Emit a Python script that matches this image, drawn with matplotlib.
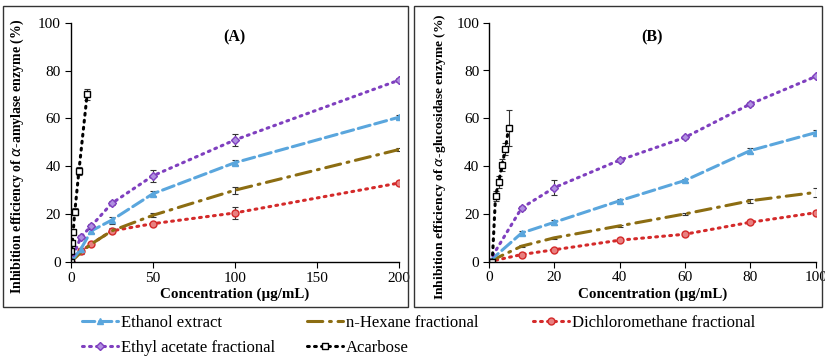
import numpy as np
import matplotlib
matplotlib.use("Agg")
import matplotlib.pyplot as plt
from matplotlib.patches import Rectangle
from matplotlib.lines import Line2D

plt.rcParams["font.family"] = ["Liberation Serif", "DejaVu Serif"]

# ---- panel A: alpha-amylase ----
conc_a = [0, 6.25, 12.5, 25, 50, 100, 200]
ethanol_a = [0, 5.5, 13, 17.5, 28.5, 41.5, 60.5]
hexane_a = [0, 4, 7.5, 13, 19.5, 30, 47]
dcm_a = [0, 4.5, 7.5, 13, 16, 20.5, 33]
ethyl_a = [0, 10.5, 15, 24.5, 36, 51, 76]
ethanol_a_err = [0, 0.5, 0.8, 1.5, 1, 1, 0.8]
hexane_a_err = [0, 0.5, 0.5, 0.8, 0.8, 1.5, 0.8]
dcm_a_err = [0, 0.5, 0.5, 1, 0.8, 2.5, 1]
ethyl_a_err = [0, 0.8, 1, 0.8, 2.5, 2.5, 0.8]
acarb_conc_a = [0, 0.25, 1, 1.5, 2.5, 5, 10]
acarb_a = [0, 4.5, 8, 12.5, 21, 38, 70]
acarb_a_err = [0, 0.5, 0.8, 1, 1.5, 1.5, 2.5]

# ---- panel B: alpha-glucosidase ----
conc_b = [0, 10, 20, 40, 60, 80, 100]
ethanol_b = [0, 12, 16.5, 25.5, 34, 46.5, 54]
hexane_b = [0, 6.5, 10, 15, 20, 25.5, 29]
dcm_b = [0, 3, 5, 9, 11.5, 16.5, 20.5]
ethyl_b = [0, 22.5, 31, 42.5, 52, 66, 77.5]
ethanol_b_err = [0, 1, 1, 0.8, 0.8, 1, 1]
hexane_b_err = [0, 0.5, 0.5, 0.5, 0.5, 0.8, 1.8]
dcm_b_err = [0, 0.5, 0.5, 0.5, 0.8, 0.8, 0.8]
ethyl_b_err = [0, 0.8, 3, 0.8, 0.8, 0.8, 0.8]
acarb_conc_b = [1, 2, 3, 4, 5, 6]
acarb_b = [0, 27.5, 33.5, 40.5, 47, 56]
acarb_b_err = [0, 2, 2.5, 2.5, 2.5, 7.5]

C_ETH = "#5aa6dd"
C_HEX = "#8c6d12"
C_DCM = "#d42a2a"
C_EA = "#7f3fbf"
C_AC = "#000000"

dot = (0, (0.6, 1.7))

styles = {
    "eth": dict(color=C_ETH, ls=(0, (4, 1.6)), marker="^", mfc=C_ETH, ms=5),
    "hex": dict(color=C_HEX, ls=(0, (5, 2.2, 0.6, 2.2)), marker="None", ms=4),
    "dcm": dict(color=C_DCM, ls=dot, marker="o", mfc="#e88080", ms=5),
    "ea": dict(color=C_EA, ls=dot, marker="D", mfc="#b090e0", ms=4),
    "ac": dict(color=C_AC, ls=dot, marker="s", mfc="white", ms=5),
}


def draw(ax, x, y, err, key):
    st = styles[key]
    ax.errorbar(x, y, yerr=err, color=st["color"], ls=st["ls"], lw=2.2,
                marker=st["marker"], mfc=st.get("mfc", "none"), mec=st["color"],
                ms=st["ms"], ecolor="#333333", elinewidth=0.8, capsize=2.5,
                capthick=0.8, dash_capstyle="round")


fig = plt.figure(figsize=(8.25, 3.58), dpi=100)
W, H = 825.0, 358.0


def ax_rect(l, r, t, b):
    return [l / W, 1 - b / H, (r - l) / W, (b - t) / H]


ax1 = fig.add_axes(ax_rect(70.7, 399, 22.7, 262))
ax2 = fig.add_axes(ax_rect(489, 815.7, 22.7, 261.7))

draw(ax1, conc_a, dcm_a, dcm_a_err, "dcm")
draw(ax1, conc_a, hexane_a, hexane_a_err, "hex")
draw(ax1, conc_a, ethanol_a, ethanol_a_err, "eth")
draw(ax1, conc_a, ethyl_a, ethyl_a_err, "ea")
draw(ax1, acarb_conc_a, acarb_a, acarb_a_err, "ac")

draw(ax2, conc_b, dcm_b, dcm_b_err, "dcm")
draw(ax2, conc_b, hexane_b, hexane_b_err, "hex")
draw(ax2, conc_b, ethanol_b, ethanol_b_err, "eth")
draw(ax2, conc_b, ethyl_b, ethyl_b_err, "ea")
draw(ax2, acarb_conc_b, acarb_b, acarb_b_err, "ac")

for ax, xmax, xt, lab, title, ylsize, ylx in [
    (ax1, 200, [0, 50, 100, 150, 200], "Inhibition efficiency of $\\alpha$-amylase enzyme (%)", "(A)", 10.0, -0.164),
    (ax2, 100, [0, 20, 40, 60, 80, 100], "Inhibition efficiency of $\\alpha$-glucosidase enzyme (%)", "(B)", 9.7, -0.15),
]:
    ax.set_xlim(0, xmax)
    ax.set_ylim(0, 100)
    ax.set_xticks(xt)
    ax.set_yticks([0, 20, 40, 60, 80, 100])
    ax.spines["top"].set_visible(False)
    ax.spines["right"].set_visible(False)
    ax.spines["left"].set_linewidth(1.0)
    ax.spines["bottom"].set_linewidth(1.0)
    ax.tick_params(labelsize=11, length=4, width=0.8, direction="out", pad=3)
    ax.set_xlabel("Concentration (\u00b5g/mL)", fontsize=10.8, fontweight="bold", labelpad=2)
    ax.set_ylabel(lab, fontsize=ylsize, fontweight="bold", va="center")
    ax.yaxis.set_label_coords(ylx, 0.44)
    ax.text(0.5, 0.94, title, transform=ax.transAxes, ha="center", va="center",
            fontsize=11.5, fontweight="bold")
    ax.patch.set_alpha(0)

# panel frames
for l, r in [(3, 408), (414, 822)]:
    fig.add_artist(Rectangle((l / W, 1 - 307 / H), (r - l) / W, 301 / H,
                             transform=fig.transFigure, fill=False, lw=1.0,
                             edgecolor="#333333"))

# legend
labels = ["Ethanol extract", "n-Hexane fractional", "Dichloromethane fractional",
          "Ethyl acetate fractional", "Acarbose"]
handles = []
for key in ["eth", "hex", "dcm", "ea", "ac"]:
    st = styles[key]
    handles.append(Line2D([], [], color=st["color"], ls=st["ls"], lw=2.2,
                          marker=st["marker"], mfc=st.get("mfc", "none"),
                          mec=st["color"], ms=st["ms"], dash_capstyle="round"))

pos = [(82, 323), (307, 323), (533, 323), (82, 348), (307, 348)]
for h, lab, (x, y) in zip(handles, labels, pos):
    fig.legend([h], [lab], loc="center left", bbox_to_anchor=(x / W, 1 - y / H),
               frameon=False, fontsize=12, handlelength=2.15, handletextpad=0.2,
               borderpad=0, borderaxespad=0)

fig.savefig("out.png", dpi=100)
